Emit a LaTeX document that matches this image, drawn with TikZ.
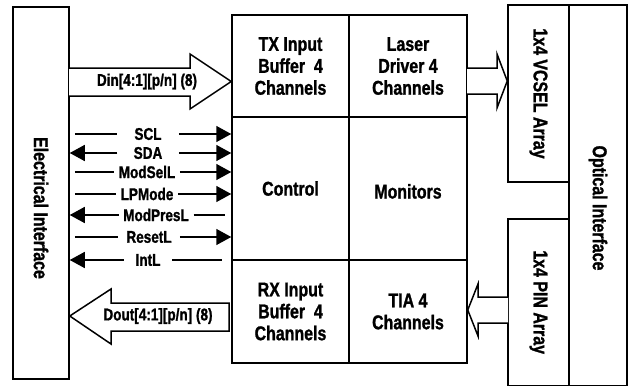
\documentclass[tikz,border=0pt]{standalone}
\usepackage{fontspec}
\newfontfamily\diafont{Liberation Sans Bold}[FakeStretch=0.8,FakeBold=1.2]
\usetikzlibrary{arrows.meta}

\begin{document}
\begin{tikzpicture}[x=1bp,y=1bp,line width=1.5bp,line join=miter,
    >={Triangle[length=15bp,width=16bp]},
    blk/.style={draw,rectangle,inner sep=0pt,align=center,
      font=\diafont\fontsize{20}{22}\selectfont},
    vtxt/.style={rotate=-90,inner sep=0pt,
      font=\diafont\fontsize{20}{22}\selectfont},
    sig/.style={fill=white,inner xsep=4bp,inner ysep=1bp,minimum width=60bp,
      font=\diafont\fontsize{17}{19}\selectfont},
    fat/.style={draw,fill=white,line join=miter},
  ]
    \useasboundingbox (0,0) rectangle (628,387);
    %% boxes
    \node (elec) at (41,194) [blk,minimum width=56bp,minimum height=372bp] {};
    \node (electxt) at (41,179) [vtxt] {Electrical Interface};
    \node (tx) at (290.5,321) [blk,minimum width=117bp,minimum height=102bp] {TX Input\\Buffer~~4\\Channels};
    \node (ld) at (408,321) [blk,minimum width=118bp,minimum height=102bp] {Laser\\Driver 4\\Channels};
    \node (ctrl) at (290.5,198.5) [blk,minimum width=117bp,minimum height=143bp] {Control};
    \node (mon) at (408,198.5) [blk,minimum width=118bp,minimum height=143bp,text height=24bp,text depth=4bp] {Monitors};
    \node (rx) at (290.5,75.5) [blk,minimum width=117bp,minimum height=103bp] {RX Input\\Buffer~~4\\Channels};
    \node (tia) at (408,75.5) [blk,minimum width=118bp,minimum height=103bp] {TIA 4\\Channels};
    \node (opt) at (598,191.8) [blk,minimum width=58bp,minimum height=380.5bp] {};
    \node (opttxt) at (598,179) [vtxt] {Optical Interface};
    \node (vcsel) at (538.5,293.5) [blk,rotate=-90,minimum width=177bp,minimum height=61bp] {1x4 VCSEL Array};
    \node (pin) at (538.5,84.8) [blk,rotate=-90,minimum width=166.5bp,minimum height=61bp] {1x4 PIN Array};
    %% wide arrows
    \draw [fat] (69,319) -- (190,319) -- (190,333) -- (tx.west |- 0,305.5) -- (190,278) -- (190,291) -- (69,291);
    \node (din) at (147,305.5) [sig,fill=none,minimum width=0pt] {Din[4:1][p/n] (8)};
    \draw [fat] (467,319) -- (497,319) -- (497,333) -- (vcsel.south |- 0,306) -- (497,279) -- (497,293) -- (467,293);
    \draw [fat] (508,90) -- (478,90) -- (478,103) -- (tia.east |- 0,77) -- (478,51) -- (478,64) -- (508,64);
    \draw [fat] (229,84) -- (111,84) -- (111,98) -- (elec.east |- 0,71) -- (111,43) -- (111,56) -- (229,56) -- cycle;
    \node (dout) at (158,71) [sig,fill=none,minimum width=0pt] {Dout[4:1][p/n] (8)};
    %% control signals
    \node (scl) at (148,253) [sig] {SCL};
    \node (sda) at (148,234) [sig] {SDA};
    \node (modsel) at (147,215) [sig] {ModSelL};
    \node (lpmode) at (147,193) [sig] {LPMode};
    \node (modpres) at (156,172) [sig] {ModPresL};
    \node (reset) at (149,150) [sig] {ResetL};
    \node (intl) at (148,127) [sig,minimum width=47bp] {IntL};
    \draw [] ([xshift=5bp]elec.east |- scl) -- (scl);
    \draw [->] (scl) -- (scl -| ctrl.west);
    \draw [->] (sda) -- (sda -| elec.east);
    \draw [->] (sda) -- (sda -| ctrl.west);
    \draw [] ([xshift=5bp]elec.east |- modsel) -- (modsel);
    \draw [->] (modsel) -- (modsel -| ctrl.west);
    \draw [] ([xshift=5bp]elec.east |- lpmode) -- (lpmode);
    \draw [->] (lpmode) -- (lpmode -| ctrl.west);
    \draw [->] (modpres) -- (modpres -| elec.east);
    \draw [] (modpres) -- ([xshift=-6bp]modpres -| ctrl.west);
    \draw [] ([xshift=5bp]elec.east |- reset) -- (reset);
    \draw [->] (reset) -- (reset -| ctrl.west);
    \draw [->] (intl) -- (intl -| elec.east);
    \draw [] (intl) -- ([xshift=-9bp]intl -| ctrl.west);
    %
\end{tikzpicture}
\end{document}
